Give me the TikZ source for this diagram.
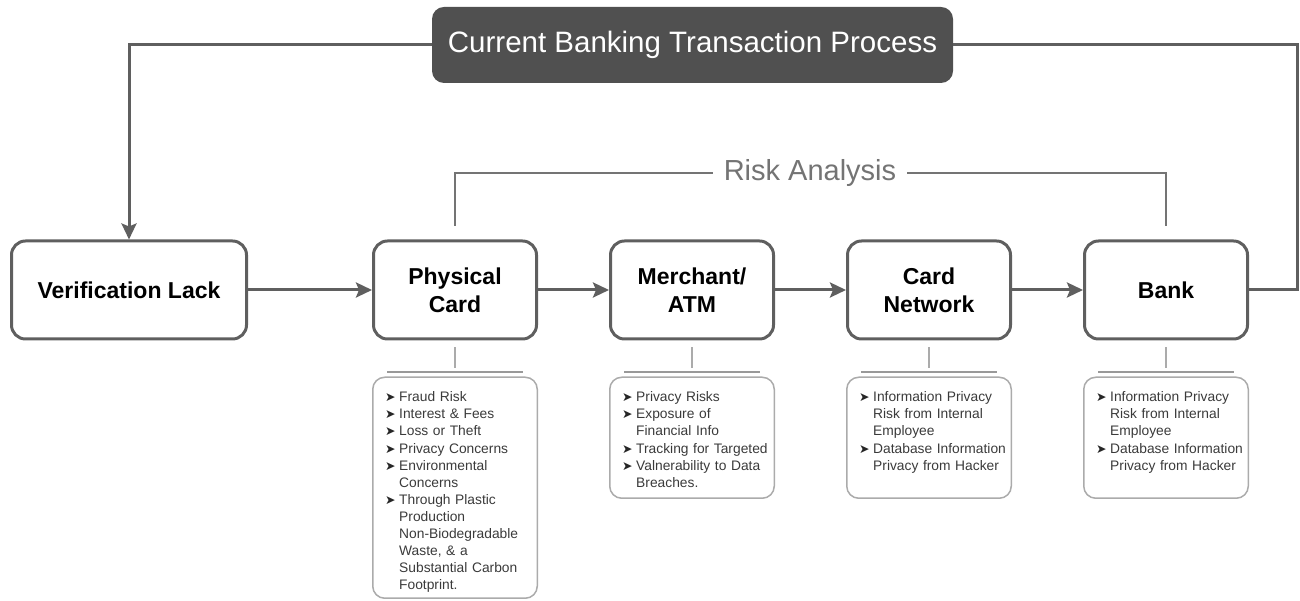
\documentclass[tikz,border=0pt]{standalone}
\usepackage{fontspec}
\setmainfont{Liberation Sans}
\newfontfamily\arrowfont{DejaVu Sans}
\usepackage{tikz}
\usetikzlibrary{positioning, arrows.meta}
\definecolor{linegray}{HTML}{5F5F5F}
\definecolor{titlegray}{HTML}{505050}
\definecolor{listgray}{HTML}{ABABAB}
\definecolor{shelfgray}{HTML}{999999}
\definecolor{textgray}{HTML}{3A3A3A}
\definecolor{riskgray}{HTML}{747474}
\NewDocumentCommand{\riskitem}{m}{\par\hangindent=14pt\hangafter=1\noindent\makebox[14pt][l]{\color{black!85}\arrowfont\fontsize{12.5}{12.5}\selectfont ➤}#1\par}

\begin{document}
\begin{tikzpicture}[x=1pt, y=1pt, node distance={71pt},
        main/.style = {draw=linegray, line width=3pt, rounded corners=14pt,
                        minimum width=163pt, minimum height=98pt, align=center,
                        font=\fontsize{23}{28}\selectfont\bfseries},
        flow/.style = {draw=linegray, line width=3pt},
        tip/.style = {-{Stealth[length=16pt, width=15pt, inset=3pt]}},
        riskbox/.style = {draw=listgray, line width=1.5pt, rounded corners=12pt,
                        minimum width=164.5pt},
        risktext/.style = {anchor=north west, inner sep=0pt, text width=150pt,
                        align=left, text=textgray, font=\fontsize{13.8}{17.1}\selectfont},
        stem/.style = {draw=listgray, line width=1.5pt},
        shelf/.style = {draw=shelfgray, line width=2pt},
        bracket/.style = {draw=riskgray, line width=2pt}]
        \useasboundingbox (0,0) rectangle (1300,601);

        \node[main, minimum width=235pt] (verif) at (129,311) {Verification Lack};
        \node[main] (phys) [right=124pt of verif] {Physical\\Card};
        \node[main] (merch) [right=of phys] {Merchant/\\ATM};
        \node[main] (cardnet) [right=of merch] {Card\\Network};
        \node[main] (bank) [right=of cardnet] {Bank};

        \node[fill=titlegray, rounded corners=12pt, text=white, minimum width=521pt,
                minimum height=76pt, font=\fontsize{29.5}{29.5}\selectfont] (title)
                at (692.5,556) {Current Banking Transaction Process};
        \coordinate (corner) at (1297.5,556);

        \draw[flow, tip] (verif) -- (phys);
        \draw[flow, tip] (phys) -- (merch);
        \draw[flow, tip] (merch) -- (cardnet);
        \draw[flow, tip] (cardnet) -- (bank);
        \draw[flow, tip] (title.west) -| (verif.north);
        \draw[flow] (title.east) -- (corner) |- (bank.east);

        \node[text=riskgray, fill=white, inner xsep=11pt,
                font=\fontsize{29}{29}\selectfont] (risk) at (810,428) {Risk Analysis};
        \draw[bracket] (risk.west) -| ([yshift=13pt]phys.north);
        \draw[bracket] (risk.east) -| ([yshift=13pt]bank.north);

        \node[riskbox, minimum height=221pt, below=36pt of phys] (physbox) {};
        \node[riskbox, minimum height=121pt, below=36pt of merch] (merchbox) {};
        \node[riskbox, minimum height=121pt, below=36pt of cardnet] (cardnetbox) {};
        \node[riskbox, minimum height=121pt, below=36pt of bank] (bankbox) {};

        \draw[stem] ([yshift=-7pt]phys.south) -- ([yshift=8pt]physbox.north);
        \draw[stem] ([yshift=-7pt]merch.south) -- ([yshift=8pt]merchbox.north);
        \draw[stem] ([yshift=-7pt]cardnet.south) -- ([yshift=8pt]cardnetbox.north);
        \draw[stem] ([yshift=-7pt]bank.south) -- ([yshift=8pt]bankbox.north);

        \draw[shelf] ([xshift=-68pt, yshift=4pt]physbox.north) -- ([xshift=68pt, yshift=4pt]physbox.north);
        \draw[shelf] ([xshift=-68pt, yshift=4pt]merchbox.north) -- ([xshift=68pt, yshift=4pt]merchbox.north);
        \draw[shelf] ([xshift=-68pt, yshift=4pt]cardnetbox.north) -- ([xshift=68pt, yshift=4pt]cardnetbox.north);
        \draw[shelf] ([xshift=-68pt, yshift=4pt]bankbox.north) -- ([xshift=68pt, yshift=4pt]bankbox.north);

        \node[risktext] (physlist) at ([xshift=13pt, yshift=-8pt]physbox.north west) {%
                \riskitem{Fraud Risk}
                \riskitem{Interest \& Fees}
                \riskitem{Loss or Theft}
                \riskitem{Privacy Concerns}
                \riskitem{Environmental\newline Concerns}
                \riskitem{Through Plastic\newline Production\newline Non-Biodegradable\newline Waste, \& a\newline Substantial Carbon\newline Footprint.}};
        \node[risktext] (merchlist) at ([xshift=13pt, yshift=-8pt]merchbox.north west) {%
                \riskitem{Privacy Risks}
                \riskitem{Exposure of\newline Financial Info}
                \riskitem{Tracking for Targeted}
                \riskitem{Valnerability to Data\newline Breaches.}};
        \node[risktext] (cardnetlist) at ([xshift=13pt, yshift=-8pt]cardnetbox.north west) {%
                \riskitem{Information Privacy\newline Risk from Internal\newline Employee}
                \riskitem{Database Information\newline Privacy from Hacker}};
        \node[risktext] (banklist) at ([xshift=13pt, yshift=-8pt]bankbox.north west) {%
                \riskitem{Information Privacy\newline Risk from Internal\newline Employee}
                \riskitem{Database Information\newline Privacy from Hacker}};
    \end{tikzpicture}
\end{document}
